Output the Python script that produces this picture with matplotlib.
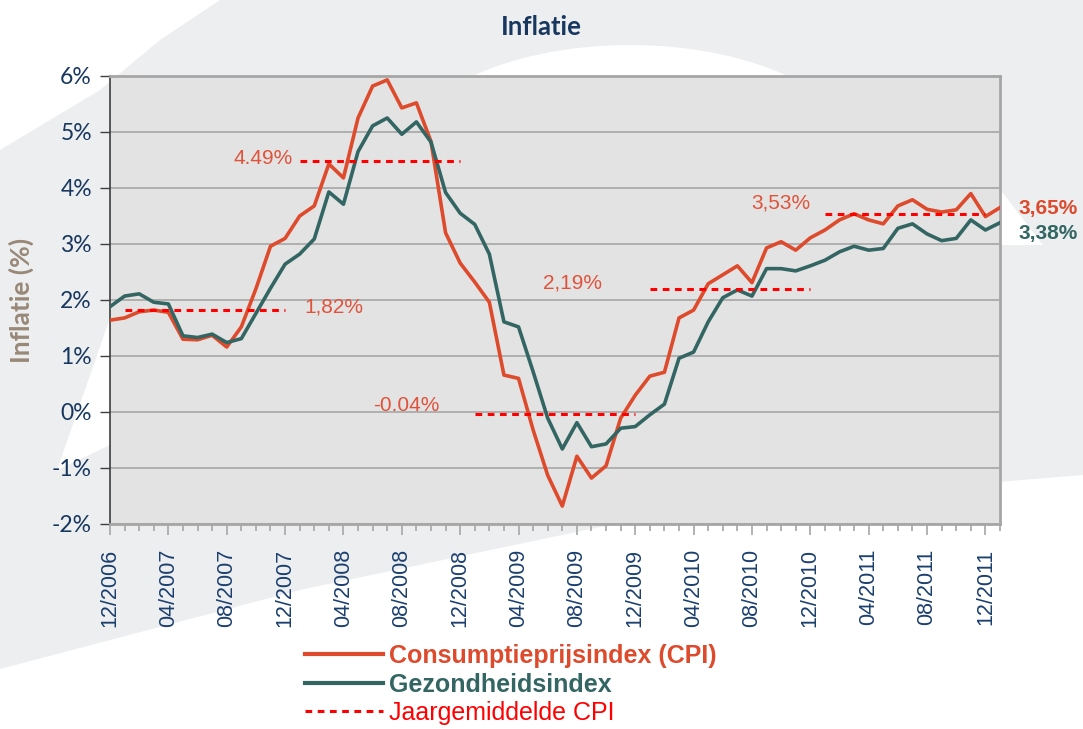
import matplotlib
matplotlib.use("Agg")
import matplotlib.pyplot as plt
from matplotlib.patches import Polygon, Ellipse
from matplotlib.lines import Line2D

# monthly values, 12/2006 .. 01/2012
cpi = [1.64, 1.68, 1.79, 1.82, 1.78, 1.30, 1.29, 1.37, 1.16, 1.52, 2.20, 2.96,
       3.10, 3.50, 3.68, 4.43, 4.18, 5.25, 5.82, 5.93, 5.43, 5.52, 4.83, 3.20,
       2.66, 2.32, 1.96, 0.66, 0.60, -0.32, -1.13, -1.68, -0.79, -1.18, -0.96, -0.11,
       0.30, 0.64, 0.71, 1.68, 1.82, 2.29, 2.45, 2.61, 2.31, 2.93, 3.04, 2.89,
       3.11, 3.25, 3.43, 3.54, 3.43, 3.36, 3.68, 3.79, 3.62, 3.57, 3.61, 3.90,
       3.49, 3.65]
gezondheid = [1.88, 2.07, 2.11, 1.96, 1.93, 1.36, 1.33, 1.39, 1.24, 1.31, 1.76, 2.21,
              2.64, 2.82, 3.09, 3.93, 3.71, 4.65, 5.11, 5.25, 4.96, 5.18, 4.82, 3.92,
              3.55, 3.35, 2.82, 1.61, 1.52, 0.72, -0.11, -0.66, -0.19, -0.62, -0.57, -0.29,
              -0.26, -0.05, 0.14, 0.96, 1.07, 1.61, 2.04, 2.18, 2.07, 2.56, 2.56, 2.52,
              2.61, 2.71, 2.86, 2.96, 2.89, 2.92, 3.28, 3.36, 3.18, 3.06, 3.10, 3.43,
              3.25, 3.38]

tick_labels = ["12/2006", "04/2007", "08/2007", "12/2007", "04/2008", "08/2008",
               "12/2008", "04/2009", "08/2009", "12/2009", "04/2010", "08/2010",
               "12/2010", "04/2011", "08/2011", "12/2011"]

# yearly averages: first and last month index, value, label
avg_start = [1, 13, 25, 37, 49]
avg_end = [12, 24, 36, 48, 60]
avg_value = [1.82, 4.49, -0.04, 2.19, 3.53]
avg_text = ["1,82%", "4.49%", "-0.04%", "2,19%", "3,53%"]

W, H = 1083, 729
GRAY_BG = "#EDEEF0"
ORANGE = "#DD4A2C"
TEAL = "#336663"
LABEL_RED = "#E0533B"
NAVY = "#17375E"

fig = plt.figure(figsize=(W / 100, H / 100), dpi=100, facecolor=GRAY_BG)


def px(points):
    return [(x / W, 1 - y / H) for x, y in points]


# decorative background swooshes
shapes = [
    [(0, 0), (220, 0), (160, 40), (100, 90), (0, 150)],
    [(0, 669), (300, 590), (600, 527), (900, 490), (1083, 475), (1083, 729), (0, 729)],
    [(110, 318), (57, 470), (110, 445)],
    [(999, 188), (999, 245), (1043, 245)],
]
for s in shapes:
    fig.add_artist(Polygon(px(s), closed=True, facecolor="white", edgecolor="none",
                           transform=fig.transFigure, zorder=-10))
fig.add_artist(Ellipse((630 / W, 1 - 165 / H), 470 / W, 240 / H, facecolor="white",
                       edgecolor="none", transform=fig.transFigure, zorder=-10))

ax = fig.add_axes([110 / W, 1 - 524 / H, 890 / W, 448 / H])
ax.set_facecolor("#E3E3E3")

x = list(range(len(cpi)))
ax.plot(x, cpi, color=ORANGE, lw=2.6, zorder=3)
ax.plot(x, gezondheid, color=TEAL, lw=2.6, zorder=3)

for s, e, v in zip(avg_start, avg_end, avg_value):
    ax.plot([s, e], [v, v], color="#FF0000", lw=2.2, linestyle=(0, (2.2, 1.8)), zorder=4)

# average labels
label_pos = [(13.3, 1.87, "left"), (12.5, 4.53, "right"), (22.6, 0.12, "right"),
             (31.7, 2.30, "center"), (46.0, 3.73, "center")]
for (lx, ly, ha), t in zip(label_pos, avg_text):
    ax.text(lx, ly, t, color=LABEL_RED, fontsize=15, ha=ha, va="center",
            family="Liberation Sans")

# end labels
ax.annotate("3,65%", xy=(x[-1], cpi[-1]), xytext=(13.5, -1), textcoords="offset points",
            color=ORANGE, fontsize=15, fontweight="bold", va="center", ha="left",
            family="Liberation Sans", annotation_clip=False)
ax.annotate("3,38%", xy=(x[-1], gezondheid[-1]), xytext=(13.5, -8), textcoords="offset points",
            color=TEAL, fontsize=15, fontweight="bold", va="center", ha="left",
            family="Liberation Sans", annotation_clip=False)

ax.set_xlim(0, len(cpi) - 1)
ax.set_ylim(-2, 6)

ax.set_yticks(range(-2, 7))
ax.set_yticklabels([f"{v}%" for v in range(-2, 7)])
ax.yaxis.grid(True, color="#A6A6A6", lw=1.2)
ax.set_axisbelow(True)
ax.tick_params(axis="y", direction="out", length=7, width=1, color="#3F3F3F",
               labelsize=16.5, labelcolor=NAVY, pad=6)
for lbl in ax.get_yticklabels():
    lbl.set_family("Lato")

ax.set_xticks(range(0, len(cpi), 4))
ax.set_xticklabels(tick_labels, rotation=90, family="Liberation Sans")
ax.set_xticks(range(len(cpi)), minor=True)
ax.tick_params(axis="x", which="major", direction="out", length=8, width=1.2,
               color="#A6A6A6", labelsize=15.5, labelcolor="#1B3F6E", pad=10)
ax.tick_params(axis="x", which="minor", direction="out", length=5, width=1.2,
               color="#A6A6A6")

ax.spines["left"].set_color("#3F3F3F")
ax.spines["left"].set_linewidth(1.2)
for side in ["top", "right", "bottom"]:
    ax.spines[side].set_color("#A6A6A6")
    ax.spines[side].set_linewidth(2)

ax.set_ylabel("Inflatie (%)", fontsize=19, fontweight="bold", color="#998877",
              family="Lato")
ax.yaxis.set_label_coords(-(110 - 34) / 890, 0.5)

fig.text(541 / W, 1 - 27 / H, "Inflatie", ha="center", va="center", fontsize=18.5,
         fontweight="bold", color=NAVY, family="Lato")

handles = [
    Line2D([], [], color=ORANGE, lw=3),
    Line2D([], [], color=TEAL, lw=3),
    Line2D([], [], color="#FF0000", lw=2.2, linestyle=(0, (2.2, 1.8))),
]
names = ["Consumptieprijsindex (CPI)", "Gezondheidsindex", "Jaargemiddelde CPI"]
leg = fig.legend(handles, names, loc="upper left", bbox_to_anchor=(305 / W, 1 - 644 / H),
                 frameon=False, borderpad=0, borderaxespad=0, handlelength=3.1,
                 handletextpad=0.25, labelspacing=0.18,
                 prop={"family": "Liberation Sans", "size": 18})
for t, c, w in zip(leg.get_texts(), [ORANGE, TEAL, "#FF0000"], ["bold", "bold", "normal"]):
    t.set_color(c)
    t.set_fontweight(w)

fig.savefig("out.png", dpi=100, facecolor=GRAY_BG)
